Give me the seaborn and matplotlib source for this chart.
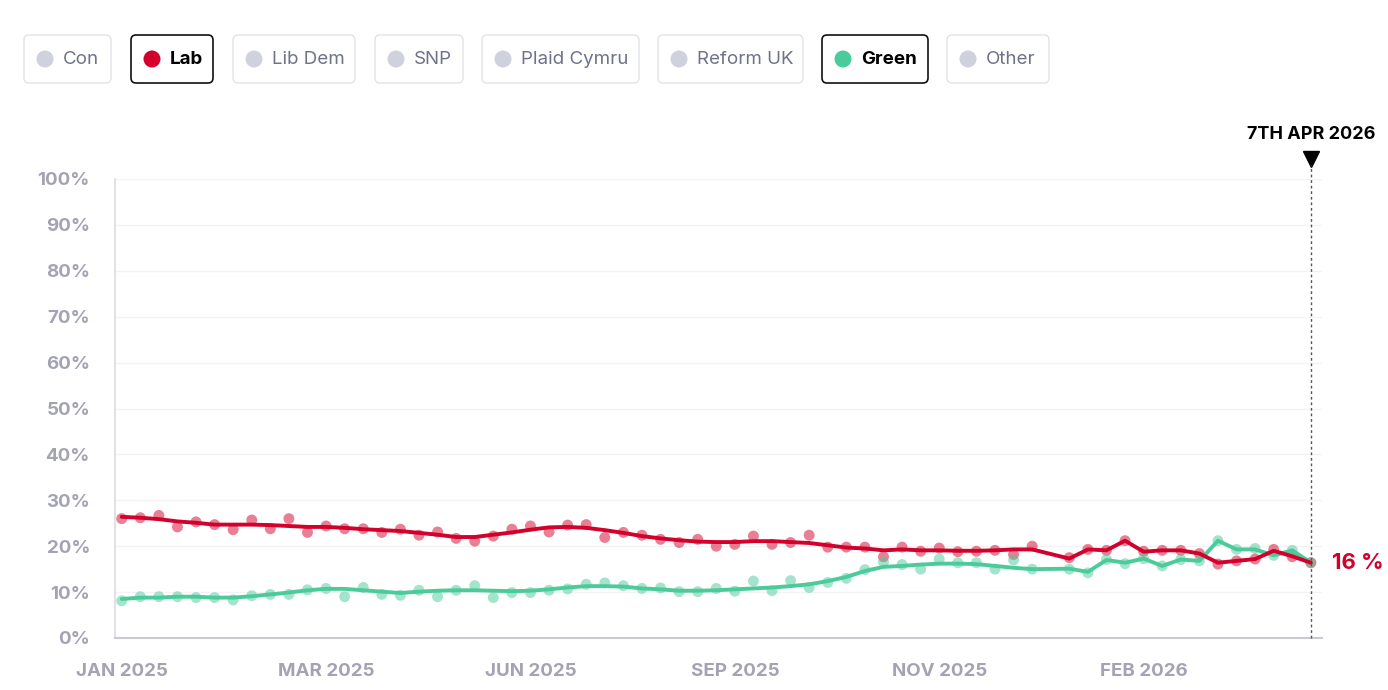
import numpy as np
import pandas as pd
import matplotlib
matplotlib.use("Agg")
import matplotlib.pyplot as plt
import matplotlib.transforms as mtransforms
from matplotlib.patches import FancyBboxPatch, Circle
import seaborn as sns

# Poll sequence positions (one slot, no. 50, has no poll)
POLL_INDEX = [i for i in range(65) if i != 50]

# Labour: individual polls and trend line
LAB_POLLS = [26.0, 26.2, 26.7, 24.2, 25.3, 24.7, 23.6, 25.7, 23.8, 26.0, 23.0,
             24.4, 23.8, 23.8, 23.0, 23.7, 22.4, 23.1, 21.7, 21.1, 22.2,
             23.7, 24.4, 23.1, 24.6, 24.7, 21.9, 23.0, 22.4, 21.5, 20.8,
             21.5, 20.0, 20.4, 22.2, 20.4, 20.8, 22.4, 19.8, 19.8, 19.8,
             17.7, 19.8, 18.9, 19.6, 18.8, 18.9, 19.1, 18.2, 20.0, 17.5,
             19.3, 19.1, 21.2, 18.9, 19.1, 19.1, 18.4, 16.1, 16.8, 17.2,
             19.3, 17.7, 16.4]
LAB_TREND = [26.4, 26.2, 25.9, 25.4, 25.1, 24.7, 24.7, 24.7, 24.6, 24.4, 24.2,
             24.2, 24.0, 23.7, 23.5, 23.3, 22.9, 22.5, 22.0, 22.0, 22.5,
             23.0, 23.6, 24.1, 24.2, 24.0, 23.5, 22.9, 22.2, 21.7, 21.3,
             21.0, 20.9, 20.9, 21.1, 21.1, 20.9, 20.7, 20.2, 19.7, 19.5,
             19.1, 19.3, 19.1, 19.1, 19.0, 19.0, 19.1, 19.3, 19.3, 17.3,
             19.3, 19.1, 21.2, 18.8, 19.1, 19.1, 18.4, 16.4, 16.8, 17.2,
             19.0, 17.8, 16.4]

# Green: individual polls and trend line
GRN_POLLS = [8.1, 9.0, 9.0, 9.0, 8.8, 8.8, 8.3, 9.2, 9.5, 9.5, 10.5,
             10.8, 9.0, 11.0, 9.5, 9.3, 10.4, 9.0, 10.4, 11.4, 8.8,
             9.9, 9.9, 10.4, 10.7, 11.7, 12.0, 11.4, 10.8, 10.9, 10.1,
             10.1, 10.8, 10.2, 12.4, 10.3, 12.5, 11.0, 12.1, 13.0, 14.9,
             16.6, 16.0, 15.0, 17.2, 16.4, 16.4, 15.0, 17.0, 15.0, 15.0,
             14.2, 17.1, 16.2, 17.3, 15.7, 17.1, 16.8, 21.2, 19.3, 19.5,
             18.0, 19.1, 16.4]
GRN_TREND = [8.5, 8.8, 8.8, 9.0, 9.0, 8.8, 8.8, 9.1, 9.5, 9.9, 10.4,
             10.7, 10.7, 10.4, 10.1, 9.8, 10.1, 10.3, 10.4, 10.4, 10.3,
             10.2, 10.3, 10.6, 11.0, 11.3, 11.3, 11.2, 10.8, 10.6, 10.3,
             10.3, 10.4, 10.6, 10.8, 11.0, 11.3, 11.7, 12.4, 13.3, 14.6,
             15.5, 15.7, 16.0, 16.2, 16.2, 16.1, 15.7, 15.3, 15.0, 15.1,
             14.4, 17.0, 16.4, 17.3, 15.7, 17.1, 16.8, 21.2, 19.3, 19.3,
             18.0, 19.1, 16.4]

TICK_POS = [0, 11, 22, 33, 44, 55]
TICK_LABELS = ["JAN 2025", "MAR 2025", "JUN 2025", "SEP 2025", "NOV 2025", "FEB 2026"]
Y_TICKS = list(range(0, 101, 10))
LEGEND_PARTIES = ["Con", "Lab", "Lib Dem", "SNP", "Plaid Cymru", "Reform UK", "Green", "Other"]
SELECTED = ["Lab", "Green"]
DATE_LABEL = "7TH APR 2026"

RED = "#d2002a"
GREEN = "#4ccb9a"
TICK_GREY = "#a3a3b4"

df = pd.concat([
    pd.DataFrame({"idx": POLL_INDEX, "poll": LAB_POLLS, "trend": LAB_TREND, "party": "Lab"}),
    pd.DataFrame({"idx": POLL_INDEX, "poll": GRN_POLLS, "trend": GRN_TREND, "party": "Green"}),
])
palette = {"Lab": RED, "Green": GREEN}

sns.set_theme(style="white")
plt.rcParams["font.family"] = ["Inter", "DejaVu Sans"]

W, H = 1388, 690
fig = plt.figure(figsize=(W / 100, H / 100), dpi=100)
ax = fig.add_axes([115 / W, (H - 638) / H, (1322 - 115) / W, (638 - 179) / H])

sns.scatterplot(data=df, x="idx", y="poll", hue="party", palette=palette, s=62,
                alpha=0.5, linewidth=0, legend=False, ax=ax, zorder=2)
sns.lineplot(data=df[df.party == "Green"], x="idx", y="trend", color=GREEN, lw=2.8,
             legend=False, ax=ax, zorder=3)
sns.lineplot(data=df[df.party == "Lab"], x="idx", y="trend", color=RED, lw=2.8,
             legend=False, ax=ax, zorder=4)

ax.set_xlim(-0.36, 64.6)
ax.set_ylim(0, 100)
ax.set_xlabel("")
ax.set_ylabel("")
ax.set_yticks(Y_TICKS)
ax.set_yticklabels([f"{v}%" for v in Y_TICKS])
ax.set_xticks(TICK_POS)
ax.set_xticklabels(TICK_LABELS)
ax.tick_params(axis="y", length=0, pad=18, labelsize=13.5, labelcolor=TICK_GREY)
ax.tick_params(axis="x", length=0, pad=18, labelsize=13.5, labelcolor=TICK_GREY)
for lbl in ax.get_xticklabels() + ax.get_yticklabels():
    lbl.set_fontweight("bold")
ax.grid(axis="y", color="#f3f3f6", lw=1)
for s in ["top", "right"]:
    ax.spines[s].set_visible(False)
ax.spines["left"].set_color("#dcdce2")
ax.spines["bottom"].set_color("#c9c9cf")
ax.spines["left"].set_linewidth(1.2)
ax.spines["bottom"].set_linewidth(1.5)

# current date marker
last = POLL_INDEX[-1]
ax.axvline(last, ymin=0, ymax=1.03, color="#555555", lw=1, ls=(0, (2, 2)), clip_on=False, zorder=5)
trans = mtransforms.blended_transform_factory(ax.transData, ax.transAxes)
ax.plot([last], [1.043], marker="v", ms=11, color="black", transform=trans, clip_on=False)
ax.text(last, 1.098, DATE_LABEL, transform=trans, ha="center", va="center",
        fontsize=13, fontweight="bold", color="black")
ax.annotate(f"{round(LAB_TREND[-1])} %", xy=(last, LAB_TREND[-1]), xytext=(15, 0),
            textcoords="offset points", ha="left", va="center", fontsize=16,
            fontweight="bold", color=RED, annotation_clip=False)

# party toggle buttons
ov = fig.add_axes([0, 0, 1, 1], zorder=-1)
ov.set_xlim(0, W)
ov.set_ylim(H, 0)
ov.axis("off")
box_x = [(24, 111), (131, 213), (233, 355), (375, 463), (482, 639), (658, 803), (822, 928), (947, 1049)]
for name, (x0, x1) in zip(LEGEND_PARTIES, box_x):
    sel = name in SELECTED
    ov.add_patch(FancyBboxPatch((x0, 35), x1 - x0, 48, boxstyle="round,pad=0,rounding_size=5",
                                fc="white", ec="#111111" if sel else "#e2e3e8",
                                lw=1.2 if sel else 1.0))
    dot = palette.get(name, "#cfd2dc") if sel else "#cfd2dc"
    ov.add_patch(Circle((x0 + 21, 59), 8.5, fc=dot, ec="none"))
    ov.text(x0 + 39, 60, name, ha="left", va="center", fontsize=13.5,
            fontweight="bold" if sel else "normal",
            color="black" if sel else "#6f7289")

fig.savefig("out.png", dpi=100)
